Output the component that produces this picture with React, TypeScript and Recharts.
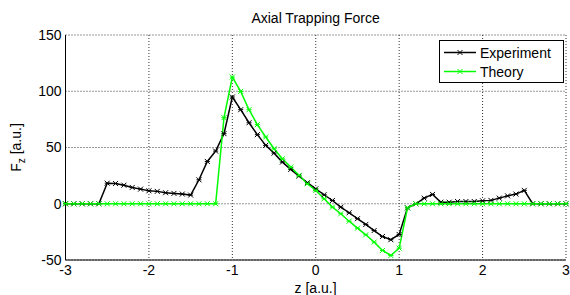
import React from "react";
import { LineChart, Line, XAxis, YAxis, CartesianGrid, Legend, Label } from "recharts";

const zValues = [
  -3.0, -2.9, -2.8, -2.7, -2.6, -2.5, -2.4, -2.3, -2.2, -2.1,
  -2.0, -1.9, -1.8, -1.7, -1.6, -1.5, -1.4, -1.3, -1.2, -1.1,
  -1.0, -0.9, -0.8, -0.7, -0.6, -0.5, -0.4, -0.3, -0.2, -0.1,
  0.0, 0.1, 0.2, 0.3, 0.4, 0.5, 0.6, 0.7, 0.8, 0.9,
  1.0, 1.1, 1.2, 1.3, 1.4, 1.5, 1.6, 1.7, 1.8, 1.9,
  2.0, 2.1, 2.2, 2.3, 2.4, 2.5, 2.6, 2.7, 2.8, 2.9, 3.0,
];

const experiment = [
  0, 0, 0, 0, 0, 18.3, 18, 16.5, 14.5, 13,
  11.5, 11, 9.8, 9.2, 8.6, 7.7, 21.3, 37.6, 46.8, 62.3,
  94.9, 83.6, 72, 61.4, 51.9, 45, 37, 30.5, 24.6, 18.7,
  13.3, 8, 2.9, -3, -8, -13.3, -18.4, -23.8, -29.1, -32,
  -27.3, -3.6, 0, 5, 8.3, 1.4, 1.4, 2, 2, 2,
  2.6, 3, 5, 7, 8.6, 11.9, 0, 0, 0, 0, 0,
];

const theory = [
  0, 0, 0, 0, 0, 0, 0, 0, 0, 0,
  0, 0, 0, 0, 0, 0, 0, 0, 0, 76.5,
  112.6, 99.9, 83.6, 70.3, 59.3, 48.9, 40, 32.6, 25.2, 17.8,
  11.8, 4.4, -3, -8.9, -15.5, -21.7, -27.6, -34.1, -41.5, -46,
  -39.5, -3.6, 0, 0, 0, 0, 0, 0, 0, 0,
  0, 0, 0, 0, 0, 0, 0, 0, 0, 0, 0,
];

const xTicks = [-3, -2, -1, 0, 1, 2, 3];
const yTicks = [-50, 0, 50, 100, 150];

const data = zValues.map((z, i) => ({ z, experiment: experiment[i], theory: theory[i] }));

const FONT = "Arial, 'Liberation Sans', sans-serif";
const GREEN = "#00ff00";

const Star = (props: any) => {
  const { cx, cy, stroke } = props;
  if (cx == null || cy == null) return null;
  const r = 2.5;
  return (
    <g>
      <line x1={cx - r} y1={cy - r} x2={cx + r} y2={cy + r} stroke={stroke} strokeWidth={1} />
      <line x1={cx - r} y1={cy + r} x2={cx + r} y2={cy - r} stroke={stroke} strokeWidth={1} />
      <line x1={cx - r} y1={cy} x2={cx + r} y2={cy} stroke={stroke} strokeWidth={1} />
    </g>
  );
};

const LegendBox = (props: any) => {
  const payload = props.payload || [];
  return (
    <svg width={126} height={44} style={{ display: "block" }}>
      <rect x={0.5} y={0.5} width={124} height={42} fill="#fff" stroke="#000" strokeWidth={1} />
      {payload.map((p: any, i: number) => {
        const y = 12.5 + i * 19;
        return (
          <g key={i}>
            <line x1={5} y1={y} x2={37} y2={y} stroke={p.color} strokeWidth={1.5} />
            <Star cx={21} cy={y} stroke={p.color} />
            <text x={41} y={y + 5} fontSize={14} fontFamily={FONT} fill="#000">
              {p.value}
            </text>
          </g>
        );
      })}
    </svg>
  );
};

export default function App() {
  return (
    <div style={{ position: "absolute", left: 0, top: 0, width: 570, height: 295, background: "#fff" }}>
      <LineChart width={570} height={295} data={data} margin={{ top: 35, right: 4, left: 0, bottom: 0 }}>
        <CartesianGrid stroke="#333" strokeDasharray="1 2" />
        <XAxis
          dataKey="z"
          type="number"
          domain={[-3, 3]}
          ticks={xTicks}
          height={35}
          axisLine={{ stroke: "#000" }}
          tickLine={false}
          tickSize={2}
          tickMargin={3}
          tick={{ fill: "#000", fontSize: 14, fontFamily: FONT }}
        >
          <Label
            content={() => (
              <g>
                <text x={315.6} y={293} textAnchor="middle" fontSize={14} fontFamily={FONT} fill="#000">
                  z [a.u.]
                </text>
                <text x={315.6} y={23} textAnchor="middle" fontSize={14} fontFamily={FONT} fill="#000">
                  Axial Trapping Force
                </text>
              </g>
            )}
          />
        </XAxis>
        <YAxis
          type="number"
          domain={[-50, 150]}
          ticks={yTicks}
          width={65.5}
          axisLine={{ stroke: "#000" }}
          tickLine={false}
          tickSize={2}
          tickMargin={2}
          tick={{ fill: "#000", fontSize: 14, fontFamily: FONT }}
        >
          <Label
            content={() => (
              <text
                transform="translate(21,147.5) rotate(-90)"
                x={0}
                y={0}
                textAnchor="middle"
                fontSize={14}
                fontFamily={FONT}
                fill="#000"
              >
                F
                <tspan dy={4} fontSize={10}>z</tspan>
                <tspan dy={-4}> [a.u.]</tspan>
              </text>
            )}
          />
        </YAxis>
        <Legend
          layout="horizontal"
          verticalAlign="middle"
          align="center"
          content={<LegendBox />}
          wrapperStyle={{ position: "absolute", left: 439, top: 40, width: 126, height: 44 }}
        />
        <Line
          type="linear"
          dataKey="experiment"
          name="Experiment"
          stroke="#000"
          strokeWidth={1.5}
          dot={<Star />}
          isAnimationActive={false}
        />
        <Line
          type="linear"
          dataKey="theory"
          name="Theory"
          stroke={GREEN}
          strokeWidth={1.5}
          dot={<Star />}
          isAnimationActive={false}
        />
      </LineChart>
    </div>
  );
}
